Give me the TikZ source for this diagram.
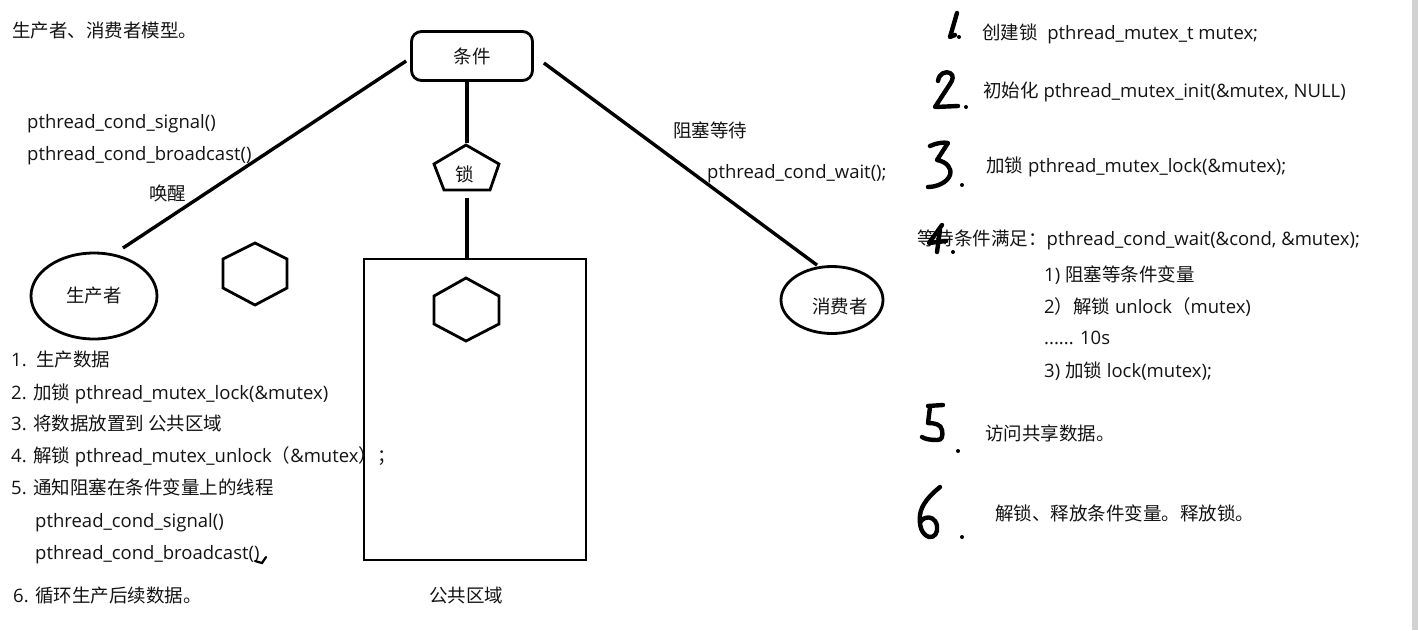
\documentclass[tikz,border=0pt]{standalone}
\usepackage{fontspec}
\setmainfont{Open Sans}
\newfontfamily\cjkfont{Noto Sans CJK SC}
\newcommand\zh[1]{{\cjkfont #1}}
\usetikzlibrary{shapes.geometric}
\definecolor{ink}{HTML}{141414}
\tikzset{
  conn/.style={line width=3.4pt, draw=black},
  shapeline/.style={line width=2.8pt, line join=miter, draw=black},
  txt/.style={anchor=base west, inner sep=0pt, text=ink, font=\fontsize{18.5}{22}\selectfont},
  lbl/.style={inner sep=0pt, text=ink, font=\fontsize{18.5}{22}\selectfont},
  hand/.style={line width=4.4pt, line cap=round, line join=round},
  ell/.style={draw, ellipse, line width=2.8pt, inner sep=0pt},
}
\begin{document}
\begin{tikzpicture}[x=1pt,y=-1pt]
\fill[white] (0,0) rectangle (1418,630);
\useasboundingbox (0,0) rectangle (1418,630);
\fill[gray!35] (1412,0) rectangle (1418,630);

% ---------- diagram ----------
\node[draw, rounded corners=10pt, line width=2.8pt, minimum width=121pt, minimum height=49pt, lbl] (cond) at (472,56) {\zh{条件}};

\draw[shapeline] (466,145) -- (499,164) -- (490,190) -- (444,190) -- (434,164) -- cycle;
\node[lbl] (lock) at (465,174) {\zh{锁}};
\coordinate (locktop) at (467,143);
\coordinate (lockbot) at (467,198);

\node[draw, line width=2.8pt, minimum width=222pt, minimum height=301pt] (area) at (475,409.5) {};
\node[lbl] (arealbl) at (466,595) {\zh{公共区域}};

\draw[conn] (locktop |- cond.south) -- (locktop);
\draw[conn] (lockbot) -- (lockbot |- area.north);

\draw[shapeline] (255,243) -- (287,259) -- (287,288) -- (255,305) -- (223,288) -- (223,259) -- cycle;
\draw[shapeline] (466,278) -- (499,296) -- (499,324) -- (466,341) -- (434,324) -- (434,296) -- cycle;

\node[ell, minimum width=126pt, minimum height=86pt, lbl] (prod) at (94,296) {\zh{生产者}};
\node[ell, minimum width=102pt, minimum height=67pt] (cons) at (832,300) {};
\node[lbl] (conslbl) at (840,306) {\zh{消费者}};

\draw[conn] ([xshift=-4pt,yshift=-5pt]cond.west) -- ([xshift=1pt,yshift=8pt]prod.55);
\draw[conn] ([xshift=10pt,yshift=-7pt]cond.east) -- ([xshift=-15pt]cons.north);

% ---------- left texts ----------
\node[txt] (title) at (12,37) {\zh{生产者、消费者模型。}};
\node[txt] (sig) at (27,128) {pthread\_cond\_signal()};
\node[txt] (bc) at (27,160) {pthread\_cond\_broadcast()};
\node[txt] (wake) at (149,200) {\zh{唤醒}};
\node[txt] (block) at (673,137) {\zh{阻塞等待}};
\node[txt] (waitf) at (707,178) {pthread\_cond\_wait();};

\node[txt] (l1) at (11,366) {1.\ \ \zh{生产数据}};
\node[txt] (l2) at (11,399) {2. \zh{加锁} pthread\_mutex\_lock(\&mutex)};
\node[txt] (l3) at (11,430) {3. \zh{将数据放置到 公共区域}};
\node[txt] (l4) at (11,462) {4. \zh{解锁} pthread\_mutex\_unlock\zh{（}\&mutex\zh{）；}};
\node[txt] (l5) at (11,494) {5. \zh{通知阻塞在条件变量上的线程}};
\node[txt] (l5a) at (35,527) {pthread\_cond\_signal()};
\node[txt] (l5b) at (35,559) {pthread\_cond\_broadcast()};
\draw[line width=2.2pt, line cap=round] (255,561) -- (262,563) -- (266,557);
\node[txt] (l6) at (13,602) {6. \zh{循环生产后续数据。}};

% ---------- right texts ----------
\node[txt] (r1) at (982,39) {\zh{创建锁}\ \ pthread\_mutex\_t mutex;};
\node[txt] (r2) at (983,97) {\zh{初始化} pthread\_mutex\_init(\&mutex, NULL)};
\node[txt] (r3) at (986,172) {\zh{加锁} pthread\_mutex\_lock(\&mutex);};
\node[txt] (r4) at (917,245) {\zh{等待条件满足：}pthread\_cond\_wait(\&cond, \&mutex);};
\node[txt] (r4a) at (1044,281) {1) \zh{阻塞等条件变量}};
\node[txt] (r4b) at (1044,313) {2\zh{）}\zh{解锁} unlock\zh{（}mutex)};
\node[txt] (r4c) at (1044,344) {...... 10s};
\node[txt] (r4d) at (1044,377) {3) \zh{加锁} lock(mutex);};
\node[txt] (r5) at (985,440) {\zh{访问共享数据。}};
\node[txt] (r6) at (995,520) {\zh{解锁、释放条件变量。释放锁。}};

% ---------- handwritten numbers ----------
\draw[hand] (957,13) -- (950,37) -- (955,35);
\fill (959,37) circle (2);
\draw[hand] (938,81) .. controls (939,73) and (946,71) .. (950,73) .. controls (954,75) and (953,80) .. (950,84) -- (935,107) -- (958,106);
\fill (966,107) circle (2);
\draw[hand] (930,146) .. controls (936,143) and (944,142) .. (948,143) -- (937,160) .. controls (947,162) and (952,168) .. (950,175) .. controls (947,183) and (936,187) .. (928,187);
\fill (962,185) circle (2);
\draw[hand] (942,225) -- (929,243) -- (946,241);
\draw[hand] (940,230) -- (937,252);
\fill (953,252) circle (2);
\draw[hand] (928,406) -- (943,405);
\draw[hand] (930,407) -- (928,423) .. controls (934,423) and (941,424) .. (942,430) .. controls (943,437) and (942,440) .. (937,440) .. controls (930,440) and (925,439) .. (922,437);
\fill (958,451) circle (2);
\draw[hand] (940,487) .. controls (930,495) and (921,505) .. (920,515) .. controls (919,525) and (921,534) .. (929,537) .. controls (935,538) and (938,532) .. (937,526) .. controls (936,519) and (930,516) .. (925,518) .. controls (922,519) and (921,521) .. (920,523);
\fill (962,537) circle (2);
\end{tikzpicture}
\end{document}
